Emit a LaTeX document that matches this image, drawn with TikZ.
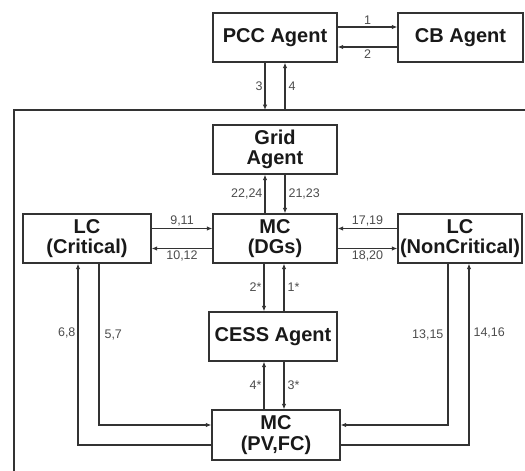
\documentclass[tikz,border=0pt]{standalone}
\usepackage{fontspec}
\setmainfont{Liberation Sans}
\usetikzlibrary{arrows.meta}
\begin{document}
\begin{tikzpicture}[x=1pt,y=-1pt,
 box/.style={draw=black!80,line width=1.2pt,fill=white,minimum width=124pt,minimum height=49pt,inner sep=0pt,align=center,font=\fontsize{20}{20.5}\selectfont\bfseries,text=black!90},
 conn/.style={draw=black!80,line width=1.1pt},
 arr/.style={conn,-{Latex[length=5.5pt,width=4.5pt]}},
 lbl/.style={font=\fontsize{12.5}{12.5}\selectfont,text=black!70,inner sep=1pt}]
\useasboundingbox (0,0) rectangle (525,471);
% frame
\coordinate (ftr) at (525,110);
\coordinate (ftl) at (14,110);
\coordinate (fbl) at (14,471);
\draw[conn] (ftr) -- (ftl) -- (fbl);
% boxes
\node[box] (pcc) at (275,37.5) {PCC Agent};
\node[box,minimum width=125pt] (cb) at (460.5,37.5) {CB Agent};
\node[box] (grid) at (275,149.5) {Grid\\Agent};
\node[box] (mcdg) at (275,238.5) {MC\\(DGs)};
\node[box,minimum width=128pt] (lcc) at (87,238.5) {LC\\(Critical)};
\node[box] (lcn) at (460,238.5) {LC\\(NonCritical)};
\node[box,minimum width=128pt] (cess) at (273,336.5) {CESS Agent};
\node[box,minimum width=128pt,minimum height=50pt] (mcpv) at (276,435) {MC\\(PV,FC)};
% PCC <-> CB
\draw[arr] ([yshift=10.5pt]pcc.east) -- node[lbl,above=1pt]{1} ([yshift=10.5pt]pcc.east -| cb.west);
\draw[arr] ([yshift=-9.5pt]cb.west) -- node[lbl,below=1pt]{2} ([yshift=-9.5pt]cb.west -| pcc.east);
% PCC <-> frame
\draw[arr] ([xshift=-10pt]pcc.south) -- node[lbl,left=1pt]{3} ([xshift=-10pt]pcc.south |- ftl);
\draw[arr] ([xshift=10pt]pcc.south |- ftl) -- node[lbl,right=2pt]{4} ([xshift=10pt]pcc.south);
% Grid <-> MC
\draw[arr] ([xshift=-10pt]mcdg.north) -- node[lbl,left=1pt]{22,24} ([xshift=-10pt]grid.south);
\draw[arr] ([xshift=10pt]grid.south) -- node[lbl,right=2pt]{21,23} ([xshift=10pt]mcdg.north);
% LC critical <-> MC
\draw[arr] ([yshift=10pt]lcc.east) -- node[lbl,above=1pt]{9,11} ([yshift=10pt]lcc.east -| mcdg.west);
\draw[arr] ([yshift=-10pt]mcdg.west) -- node[lbl,below=1pt]{10,12} ([yshift=-10pt]mcdg.west -| lcc.east);
% LC noncritical <-> MC
\draw[arr] ([yshift=10pt]lcn.west) -- node[lbl,above=1pt]{17,19} ([yshift=10pt]lcn.west -| mcdg.east);
\draw[arr] ([yshift=-10pt]mcdg.east) -- node[lbl,below=1pt]{18,20} ([yshift=-10pt]mcdg.east -| lcn.west);
% MC <-> CESS
\draw[arr] ([xshift=-11pt]mcdg.south) -- node[lbl,left=1pt]{2*} ([xshift=-11pt]mcdg.south |- cess.north);
\draw[arr] ([xshift=9pt]mcdg.south |- cess.north) -- node[lbl,right=2pt]{1*} ([xshift=9pt]mcdg.south);
% CESS <-> MC PV
\draw[arr] ([xshift=-11pt]mcdg.south |- mcpv.north) -- node[lbl,left=1pt]{4*} ([xshift=-11pt]mcdg.south |- cess.south);
\draw[arr] ([xshift=9pt]mcdg.south |- cess.south) -- node[lbl,right=2pt]{3*} ([xshift=9pt]mcdg.south |- mcpv.north);
% LC critical <-> MC PV
\draw[arr] ([xshift=12pt]lcc.south) |- node[lbl,right=4pt,pos=0.22]{5,7} ([yshift=10pt]mcpv.west);
\draw[arr] ([yshift=-10pt]mcpv.west) -| node[lbl,left=1pt,pos=0.81]{6,8} ([xshift=-9pt]lcc.south);
% LC noncritical <-> MC PV
\draw[arr] ([xshift=-12pt]lcn.south) |- node[lbl,left=3pt,pos=0.22]{13,15} ([yshift=10pt]mcpv.east);
\draw[arr] ([yshift=-10pt]mcpv.east) -| node[lbl,right=3pt,pos=0.81]{14,16} ([xshift=9pt]lcn.south);
\end{tikzpicture}
\end{document}
